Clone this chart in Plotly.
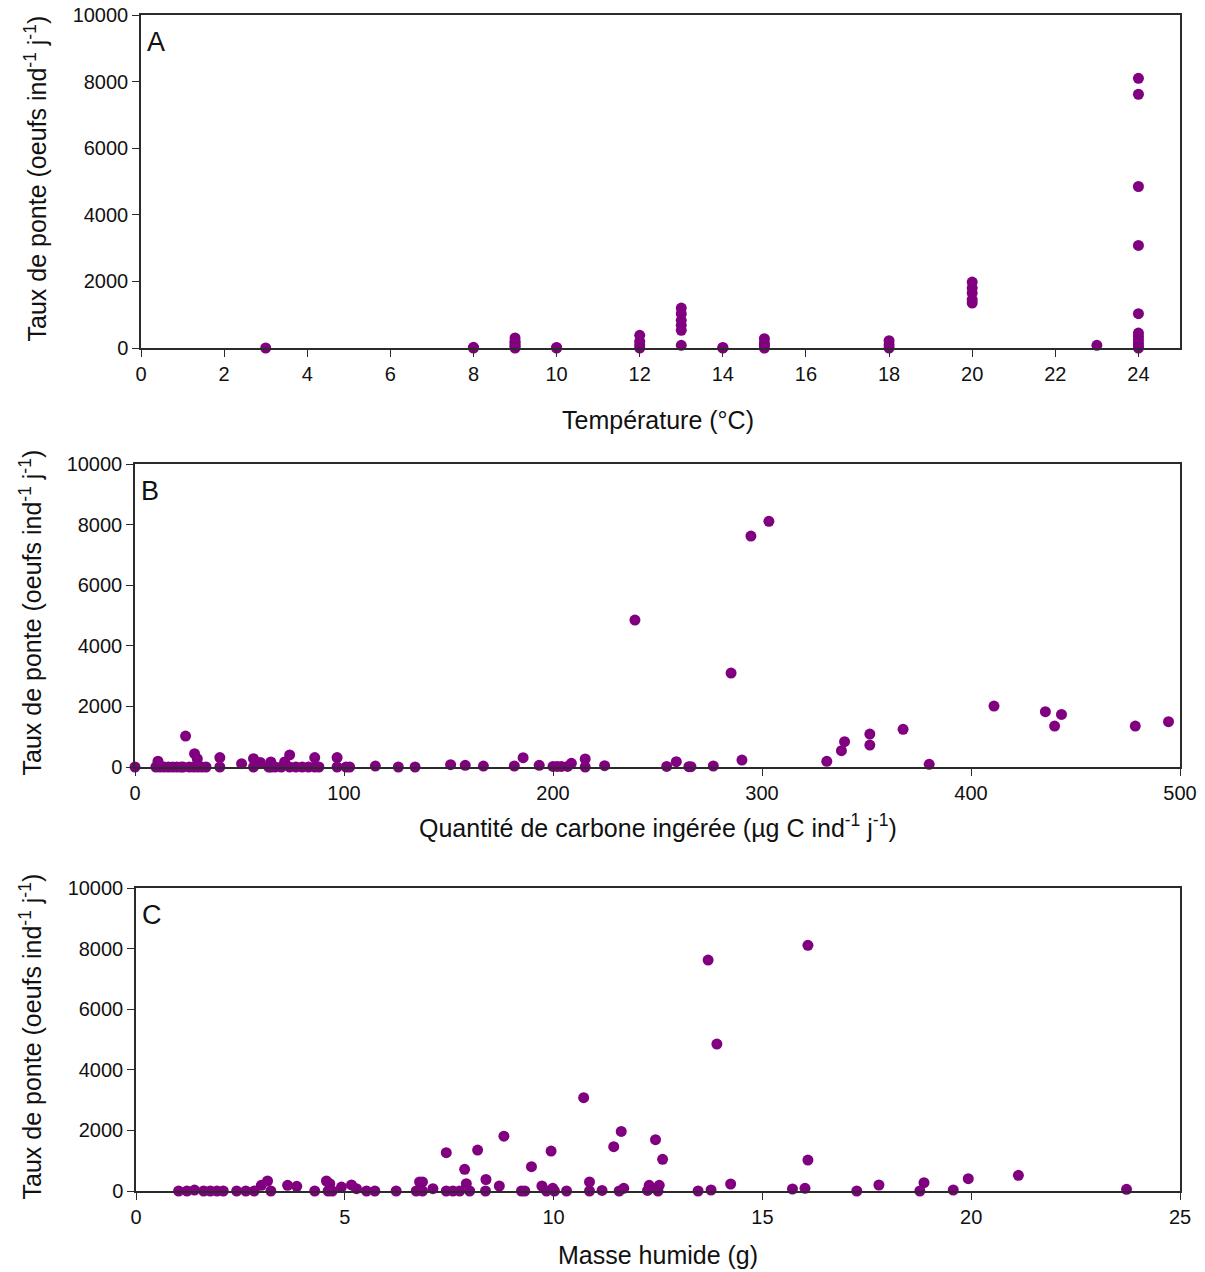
import plotly.graph_objects as go

# Panel A: temperature (°C) vs egg-laying rate
temp_x = [3, 8, 8, 9, 9, 9, 9, 9, 9, 10, 10, 12, 12, 12, 12,
          13, 13, 13, 13, 13, 13, 14, 14, 15, 15, 15, 15, 18, 18, 18,
          20, 20, 20, 20, 20, 23, 24, 24, 24, 24, 24, 24, 24, 24, 24, 24, 24]
temp_y = [0, 0, 20, 0, 50, 100, 150, 200, 300, 0, 15, 0, 100, 200, 380,
          80, 530, 680, 830, 1030, 1200, 0, 15, 0, 80, 150, 280, 0, 100, 220,
          1350, 1450, 1650, 1800, 1980, 80, 8100, 7620, 4850, 3080, 1030, 450, 350, 250, 150, 60, 0]

# Panel B: ingested carbon (µg C ind-1 j-1) vs egg-laying rate
carb_x = [0, 11, 10, 12, 14, 16, 18, 20, 22, 23, 24.2, 26, 28.5, 29.8, 28, 30, 32, 34,
          40.6, 40.6, 51, 56.7, 56.7, 60, 65, 65, 64, 67, 70, 71.6, 74, 74, 77, 80, 83, 86, 86, 88,
          96.7, 96.7, 101, 102.7, 115, 126, 134, 151, 158, 166.7, 181.5, 185.7, 193.4,
          200, 202, 204, 207, 208.8, 215.4, 215.4, 224.7, 239.2, 254.4, 259, 265, 266, 276.7,
          285.2, 290.4, 294.7, 303.3, 331, 338, 339.5, 351.6, 351.6, 367.5, 380,
          411, 435.6, 440, 443.3, 478.6, 494.5]
carb_y = [0, 190, 0, 0, 0, 0, 0, 0, 0, 0, 1020, 0, 440, 275, 0, 0, 0, 0,
          310, 0, 110, 275, 0, 150, 165, 0, 0, 0, 0, 165, 400, 0, 0, 0, 0, 310, 0, 0,
          310, 0, 0, 0, 30, 0, 0, 75, 55, 30, 33, 308, 55,
          20, 20, 20, 20, 120, 264, 0, 44, 4850, 20, 176, 10, 10, 33,
          3100, 230, 7620, 8110, 187, 540, 835, 725, 1088, 1242, 88,
          2010, 1824, 1352, 1736, 1352, 1495]

# Panel C: wet mass (g) vs egg-laying rate
mass_x = [1.02, 1.22, 1.40, 1.62, 1.78, 1.94, 2.09, 2.41, 2.63, 2.83, 3.0, 3.15, 3.23,
          3.63, 3.85, 4.28, 4.56, 4.64, 4.6, 4.7, 4.92, 5.16, 5.28, 5.52, 5.72, 6.23,
          6.79, 6.86, 6.71, 6.86, 7.11, 7.43, 7.43, 7.59, 7.75, 7.87, 7.91, 7.99,
          8.18, 8.38, 8.37, 8.70, 8.81, 9.23, 9.31, 9.47, 9.72, 9.83, 9.94, 9.98, 10.02,
          10.31, 10.72, 10.86, 10.86, 11.16, 11.44, 11.62, 11.57, 11.68, 12.25, 12.29,
          12.44, 12.53, 12.50, 12.61, 13.46, 13.70, 13.77, 13.91, 14.24, 15.72, 16.02,
          16.09, 16.09, 17.26, 17.79, 18.77, 18.87, 19.57, 19.93, 21.13, 23.72]
mass_y = [0, 0, 30, 0, 0, 0, 0, 0, 0, 0, 187, 330, 0,
          187, 154, 0, 330, 240, 0, 0, 130, 200, 77, 0, 0, 0,
          300, 300, 0, 0, 77, 1264, 0, 0, 0, 714, 240, 0,
          1350, 380, 0, 165, 1810, 0, 0, 802, 165, 0, 1319, 88, 0,
          0, 3080, 297, 0, 20, 1462, 1967, 0, 88, 20, 187,
          1692, 187, 0, 1044, 0, 7620, 33, 4850, 231, 66, 88,
          8110, 1022, 0, 198, 0, 275, 33, 407, 516, 55]

W, H = 1205, 1272
FONT = "Liberation Sans, Arial, sans-serif"
PURPLE = "#800080"
LINE = "#2b2b2b"

def px_x(p):
    return p / W

def px_y(p):
    return 1 - p / H

panels = [
    dict(x=temp_x, y=temp_y, xd=(141, 1180), yd=(15, 348), xr=[0, 25], dt=2, lab="A",
         xt="Température (°C)", xty=420, ytx=35),
    dict(x=carb_x, y=carb_y, xd=(135, 1180), yd=(464, 767), xr=[0, 500], dt=100, lab="B",
         xt="Quantité de carbone ingérée (µg C ind<sup>-1</sup> j<sup>-1</sup>)", xty=826, ytx=30),
    dict(x=mass_x, y=mass_y, xd=(136, 1180), yd=(888, 1191), xr=[0, 25], dt=5, lab="C",
         xt="Masse humide (g)", xty=1255, ytx=30),
]

fig = go.Figure()
annotations = []
layout = {}
for i, p in enumerate(panels, start=1):
    sx = "" if i == 1 else str(i)
    fig.add_trace(go.Scatter(
        x=p["x"], y=p["y"], mode="markers",
        marker=dict(color=PURPLE, size=11, line=dict(width=0)),
        xaxis="x" + sx, yaxis="y" + sx, cliponaxis=False, showlegend=False,
    ))
    common = dict(showline=True, linecolor=LINE, linewidth=1.5, mirror=True,
                  ticks="outside", ticklen=7, tickwidth=1.3, tickcolor=LINE,
                  showgrid=False, zeroline=False, automargin=False,
                  ticklabeloverflow="allow",
                  tickfont=dict(family=FONT, size=20, color="#111"))
    layout["xaxis" + sx] = dict(common, domain=[px_x(p["xd"][0]), px_x(p["xd"][1])],
                                 range=p["xr"], dtick=p["dt"], tick0=0,
                                 anchor="y" + sx)
    layout["yaxis" + sx] = dict(common, domain=[px_y(p["yd"][1]), px_y(p["yd"][0])],
                                 range=[0, 10000], dtick=2000, tick0=0, tickformat="d",
                                 anchor="x" + sx)
    # panel letter
    annotations.append(dict(text=p["lab"], x=px_x(p["xd"][0] + 4), y=px_y(p["yd"][0] + 27),
                            xref="paper", yref="paper", xanchor="left", yanchor="middle",
                            showarrow=False, font=dict(family=FONT, size=27, color="#111")))
    # x title
    annotations.append(dict(text=p["xt"], x=px_x(658), y=px_y(p["xty"]),
                            xref="paper", yref="paper", xanchor="center", yanchor="middle",
                            showarrow=False, font=dict(family=FONT, size=25, color="#111")))
    # y title
    ymid = (p["yd"][0] + p["yd"][1]) / 2
    annotations.append(dict(text="Taux de ponte (oeufs ind<sup>-1</sup> j<sup>-1</sup>)",
                            x=px_x(p["ytx"]), y=px_y(ymid - 3),
                            xref="paper", yref="paper", xanchor="center", yanchor="middle",
                            textangle=-90, showarrow=False,
                            font=dict(family=FONT, size=25, color="#111")))

fig.update_layout(
    width=W, height=H,
    margin=dict(l=0, r=0, t=0, b=0),
    plot_bgcolor="white", paper_bgcolor="white",
    annotations=annotations,
    hovermode=False,
    **layout,
)

# remove the default 8px page margin so the figure fills the window exactly
fig.write_html("out.html", config={"displayModeBar": False},
               post_script="document.body.style.margin='0';")
